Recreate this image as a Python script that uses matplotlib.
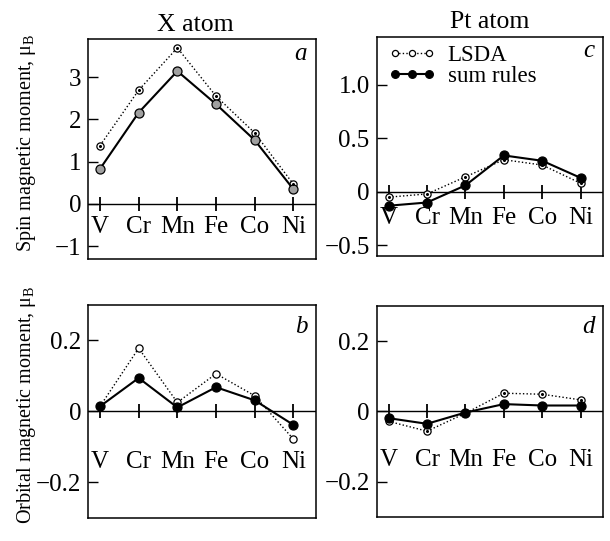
import matplotlib
matplotlib.use("Agg")
import matplotlib.pyplot as plt
import matplotlib.transforms as mtransforms

plt.rcParams["font.family"] = ["Liberation Serif", "DejaVu Serif"]
plt.rcParams["mathtext.fontset"] = "custom"
plt.rcParams["mathtext.rm"] = "Liberation Serif"
plt.rcParams["mathtext.it"] = "Liberation Serif:italic"

# 3d elements on the X site
elements = ["V", "Cr", "Mn", "Fe", "Co", "Ni"]

# spin moments (mu_B)
spin_x_lsda = [1.38, 2.69, 3.69, 2.55, 1.68, 0.47]
spin_x_sum = [0.83, 2.16, 3.14, 2.36, 1.51, 0.35]
spin_pt_lsda = [-0.05, -0.02, 0.14, 0.30, 0.25, 0.08]
spin_pt_sum = [-0.13, -0.10, 0.06, 0.34, 0.29, 0.13]

# orbital moments (mu_B)
orb_x_lsda = [0.014, 0.178, 0.025, 0.106, 0.044, -0.078]
orb_x_sum = [0.014, 0.094, 0.011, 0.068, 0.031, -0.038]
orb_pt_lsda = [-0.028, -0.056, -0.005, 0.052, 0.049, 0.033]
orb_pt_sum = [-0.019, -0.035, -0.003, 0.021, 0.017, 0.017]

fig = plt.figure(figsize=(6.1, 5.41), dpi=100)
ax_a = fig.add_axes([0.1443, 0.5213, 0.3733, 0.4067])
ax_c = fig.add_axes([0.6175, 0.5268, 0.3710, 0.4054])
ax_b = fig.add_axes([0.1443, 0.0431, 0.3733, 0.3932])
ax_d = fig.add_axes([0.6175, 0.0444, 0.3710, 0.3900])

x = list(range(len(elements)))
fs = 18


def panel(ax, lsda, summ, ylim, yticks, ylabels, letter, label_y, letter_y,
          fill="black", dot=True):
    ax.set_xlim(-0.31, 5.58)
    ax.set_ylim(*ylim)
    ax.axhline(0, color="black", lw=1.0, zorder=1)
    ax.plot(x, [0] * len(x), ls="none", marker="|", ms=10, mew=1.3,
            color="black", zorder=1)
    ax.plot(x, lsda, ls=(0, (1, 1.6)), lw=1.0, color="black", marker="o",
            ms=5.2, mfc="white", mec="black", mew=0.9, zorder=3,
            label="LSDA")
    if dot:
        ax.plot(x, lsda, ls="none", marker="o", ms=1.2, color="black",
                zorder=4)
    ax.plot(x, summ, ls="-", lw=1.5, color="black", marker="o", ms=6.5,
            mfc=fill, mec="black", mew=0.9, zorder=3, label="sum rules")
    ax.set_xticks([])
    ax.set_yticks(yticks)
    ax.set_yticklabels(ylabels)
    ax.tick_params(axis="y", direction="in", length=7, width=1.0,
                   labelsize=fs, pad=5)
    for s in ax.spines.values():
        s.set_linewidth(1.1)
    trans = mtransforms.blended_transform_factory(ax.transData, ax.transAxes)
    for xi, name in zip(x, elements):
        ax.text(xi, label_y, name, transform=trans, ha="center",
                va="center", fontsize=fs)
    ax.text(0.962, letter_y, letter, transform=ax.transAxes, ha="right",
            va="baseline", fontsize=fs, style="italic")


panel(ax_a, spin_x_lsda, spin_x_sum, (-1.3, 3.9), [-1, 0, 1, 2, 3],
      ["\u22121", "0", "1", "2", "3"], "a", 0.145, 0.905, fill="#a0a0a0")
panel(ax_c, spin_pt_lsda, spin_pt_sum, (-0.6, 1.45), [-0.5, 0, 0.5, 1.0],
      ["\u22120.5", "0", "0.5", "1.0"], "c", 0.174, 0.909)
panel(ax_b, orb_x_lsda, orb_x_sum, (-0.3, 0.3), [-0.2, 0, 0.2],
      ["\u22120.2", "0", "0.2"], "b", 0.264, 0.869, dot=False)
panel(ax_d, orb_pt_lsda, orb_pt_sum, (-0.3, 0.3), [-0.2, 0, 0.2],
      ["\u22120.2", "0", "0.2"], "d", 0.27, 0.872)

ax_a.set_title("X atom", fontsize=18.5, pad=6, x=0.47)
ax_c.set_title("Pt atom", fontsize=18.5, pad=6)

leg = ax_c.legend(loc="upper left", bbox_to_anchor=(0.0, 1.015),
                  frameon=False, fontsize=16.5, numpoints=3,
                  handlelength=2.1, handletextpad=0.5, labelspacing=0.0,
                  borderpad=0.3, borderaxespad=0.2, markerscale=0.85)

fig.text(0.043, 0.737, "Spin magnetic moment, \u03bc$_\\mathrm{B}$",
         rotation=90, ha="center", va="center", fontsize=14.5)
fig.text(0.043, 0.251, "Orbital magnetic moment, \u03bc$_\\mathrm{B}$",
         rotation=90, ha="center", va="center", fontsize=14.5)

fig.savefig("out.png", dpi=100)
